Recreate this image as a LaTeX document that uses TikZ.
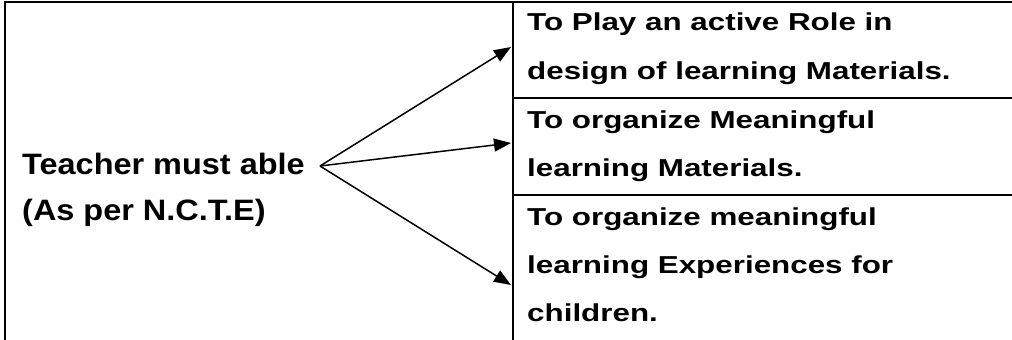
\documentclass[tikz,border=0pt]{standalone}
\usepackage{fontspec}
\setmainfont{Liberation Sans}
\newfontfamily\leftfont[FakeStretch=1.10]{Liberation Sans}
\newfontfamily\rightfont[FakeStretch=1.28]{Liberation Sans}
\usetikzlibrary{arrows.meta}
\tikzset{
  rule/.style={line width=2pt, line cap=rect},
  conn/.style={line width=1.5pt, -{Triangle[length=17pt,width=13pt]}},
  ltxt/.style={anchor=base west, inner sep=0pt, font=\leftfont\bfseries\fontsize{29.5}{34}\selectfont},
  rtxt/.style={anchor=base west, inner sep=0pt, font=\rightfont\bfseries\fontsize{24.5}{30}\selectfont},
}
\begin{document}
\begin{tikzpicture}[x=1pt,y=-1pt]
\useasboundingbox (0,0) rectangle (1012,340);
% table rules
\coordinate (tl) at (5,2);
\coordinate (tr) at (1012,2);
\coordinate (bl) at (5,340);
\coordinate (dt) at (513,2);
\coordinate (db) at (513,340);
\coordinate (h1l) at (513,98);
\coordinate (h1r) at (1012,98);
\coordinate (h2l) at (513,195);
\coordinate (h2r) at (1012,195);
\draw[rule] (bl) -- (tl) -- (tr);
\draw[rule] (dt) -- (db);
\draw[rule] (h1l) -- (h1r);
\draw[rule] (h2l) -- (h2r);
% left text
\node[ltxt] (l1) at (22,174.5) {Teacher must able};
\node[ltxt] (l2) at (22,220) {(As per N.C.T.E)};
% right text
\node[rtxt] (r1) at (527,30) {To Play an active Role in};
\node[rtxt] (r2) at (527,79) {design of learning Materials.};
\node[rtxt] (r3) at (527,128) {To organize Meaningful};
\node[rtxt] (r4) at (527,176.5) {learning Materials.};
\node[rtxt] (r5) at (527,225) {To organize meaningful};
\node[rtxt] (r6) at (527,273) {learning Experiences for};
\node[rtxt] (r7) at (527,321) {children.};
% arrows
\coordinate (hub) at (320,166);
\coordinate (t1) at (511,47);
\coordinate (t2) at (511,143);
\coordinate (t3) at (511,285);
\draw[conn] (hub) -- (t1);
\draw[conn] (hub) -- (t2);
\draw[conn] (hub) -- (t3);
\end{tikzpicture}
\end{document}
